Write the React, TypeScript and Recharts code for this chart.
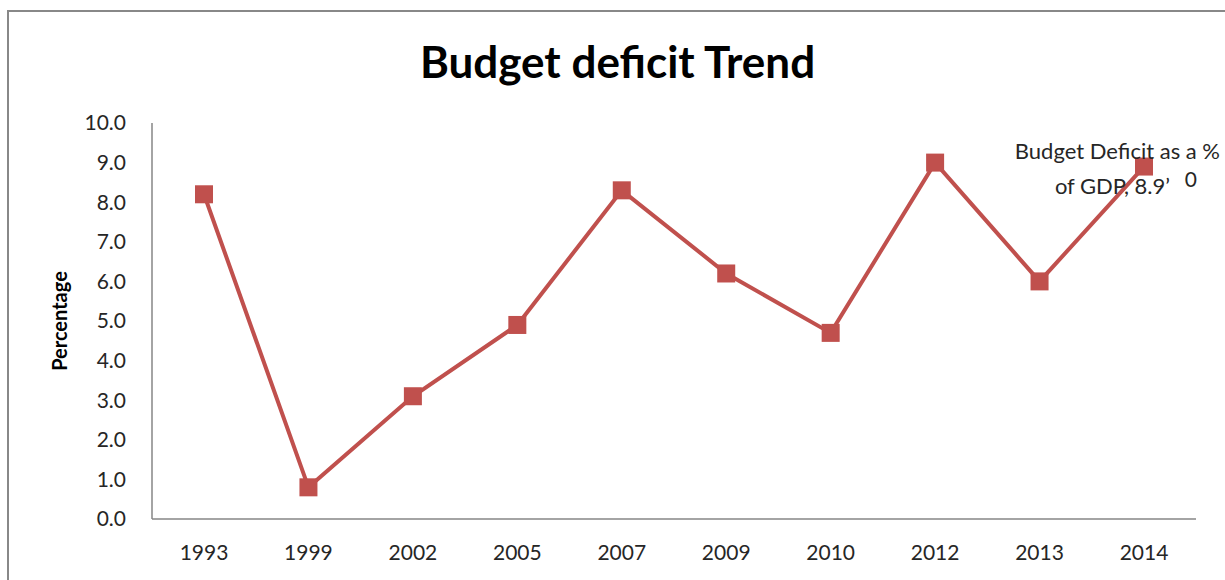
import React from "react";
import { LineChart, Line, XAxis, YAxis, LabelList } from "recharts";

const years = ["1993", "1999", "2002", "2005", "2007", "2009", "2010", "2012", "2013", "2014"];
const deficit = [8.2, 0.8, 3.1, 4.9, 8.3, 6.2, 4.7, 9.0, 6.0, 8.9];
const yTicks = [0, 1, 2, 3, 4, 5, 6, 7, 8, 9, 10];
const seriesName = "Budget Deficit as a % of GDP";

const data = years.map((year, i) => ({ year, value: deficit[i] }));

const FONT = "Lato, 'Open Sans', sans-serif";
const RED = "#c0504d";

function Square(props: any) {
  const { cx, cy } = props;
  if (cx == null || cy == null) return null;
  return <rect x={cx - 9} y={cy - 9} width={18} height={18} fill={RED} />;
}

function LastLabel(props: any) {
  const { x, y, index, value } = props;
  if (index !== years.length - 1) return null;
  return (
    <g fontFamily={FONT} fill="#262626">
      <text x={x + 76} y={y - 8} fontSize={22} textAnchor="end">
        Budget Deficit as a %
      </text>
      <text x={x + 26} y={y + 27} fontSize={22} textAnchor="end">
        {`of GDP, ${value}’`}
      </text>
      <text x={x + 53} y={y + 20} fontSize={21} textAnchor="end">
        0
      </text>
    </g>
  );
}

export default function App() {
  return (
    <div style={{ position: "absolute", left: 0, top: 0, width: 1225, height: 580, overflow: "hidden", background: "#fff" }}>
      <div
        style={{
          position: "absolute",
          left: 7,
          top: 10,
          width: 1240,
          height: 600,
          border: "2px solid #888",
          boxSizing: "border-box",
        }}
      />
      <div
        style={{
          position: "absolute",
          left: 0,
          width: 1235,
          top: 33,
          textAlign: "center",
          fontFamily: FONT,
          fontWeight: 700,
          fontSize: 44,
          lineHeight: "56px",
          color: "#000",
        }}
      >
        Budget deficit Trend
      </div>
      <div style={{ position: "absolute", left: 0, top: 0 }}>
        <LineChart width={1225} height={580} data={data} margin={{ top: 123, right: 29, bottom: 21, left: 72 }}>
          <XAxis
            dataKey="year"
            height={40}
            padding={{ left: 52, right: 52 }}
            tickLine={false}
            axisLine={{ stroke: "#868686", strokeWidth: 1.5 }}
            tick={{ fontSize: 21, fill: "#262626", fontFamily: FONT }}
            tickMargin={20}
          />
          <YAxis
            domain={[0, 10]}
            ticks={yTicks}
            interval={0}
            width={80}
            tickLine={false}
            axisLine={{ stroke: "#868686", strokeWidth: 1.5 }}
            tick={{ fontSize: 21, fill: "#262626", fontFamily: FONT }}
            tickFormatter={(v: number) => v.toFixed(1)}
            tickMargin={20}
            label={{
              value: "Percentage",
              angle: -90,
              position: "insideLeft",
              offset: -12,
              style: { fontSize: 20, fontWeight: 700, fill: "#000", fontFamily: FONT, textAnchor: "middle" },
            }}
          />
          <Line
            type="linear"
            dataKey="value"
            name={seriesName}
            stroke={RED}
            strokeWidth={4}
            dot={<Square />}
            activeDot={false}
            isAnimationActive={false}
          >
            <LabelList dataKey="value" content={<LastLabel />} />
          </Line>
        </LineChart>
      </div>
    </div>
  );
}
